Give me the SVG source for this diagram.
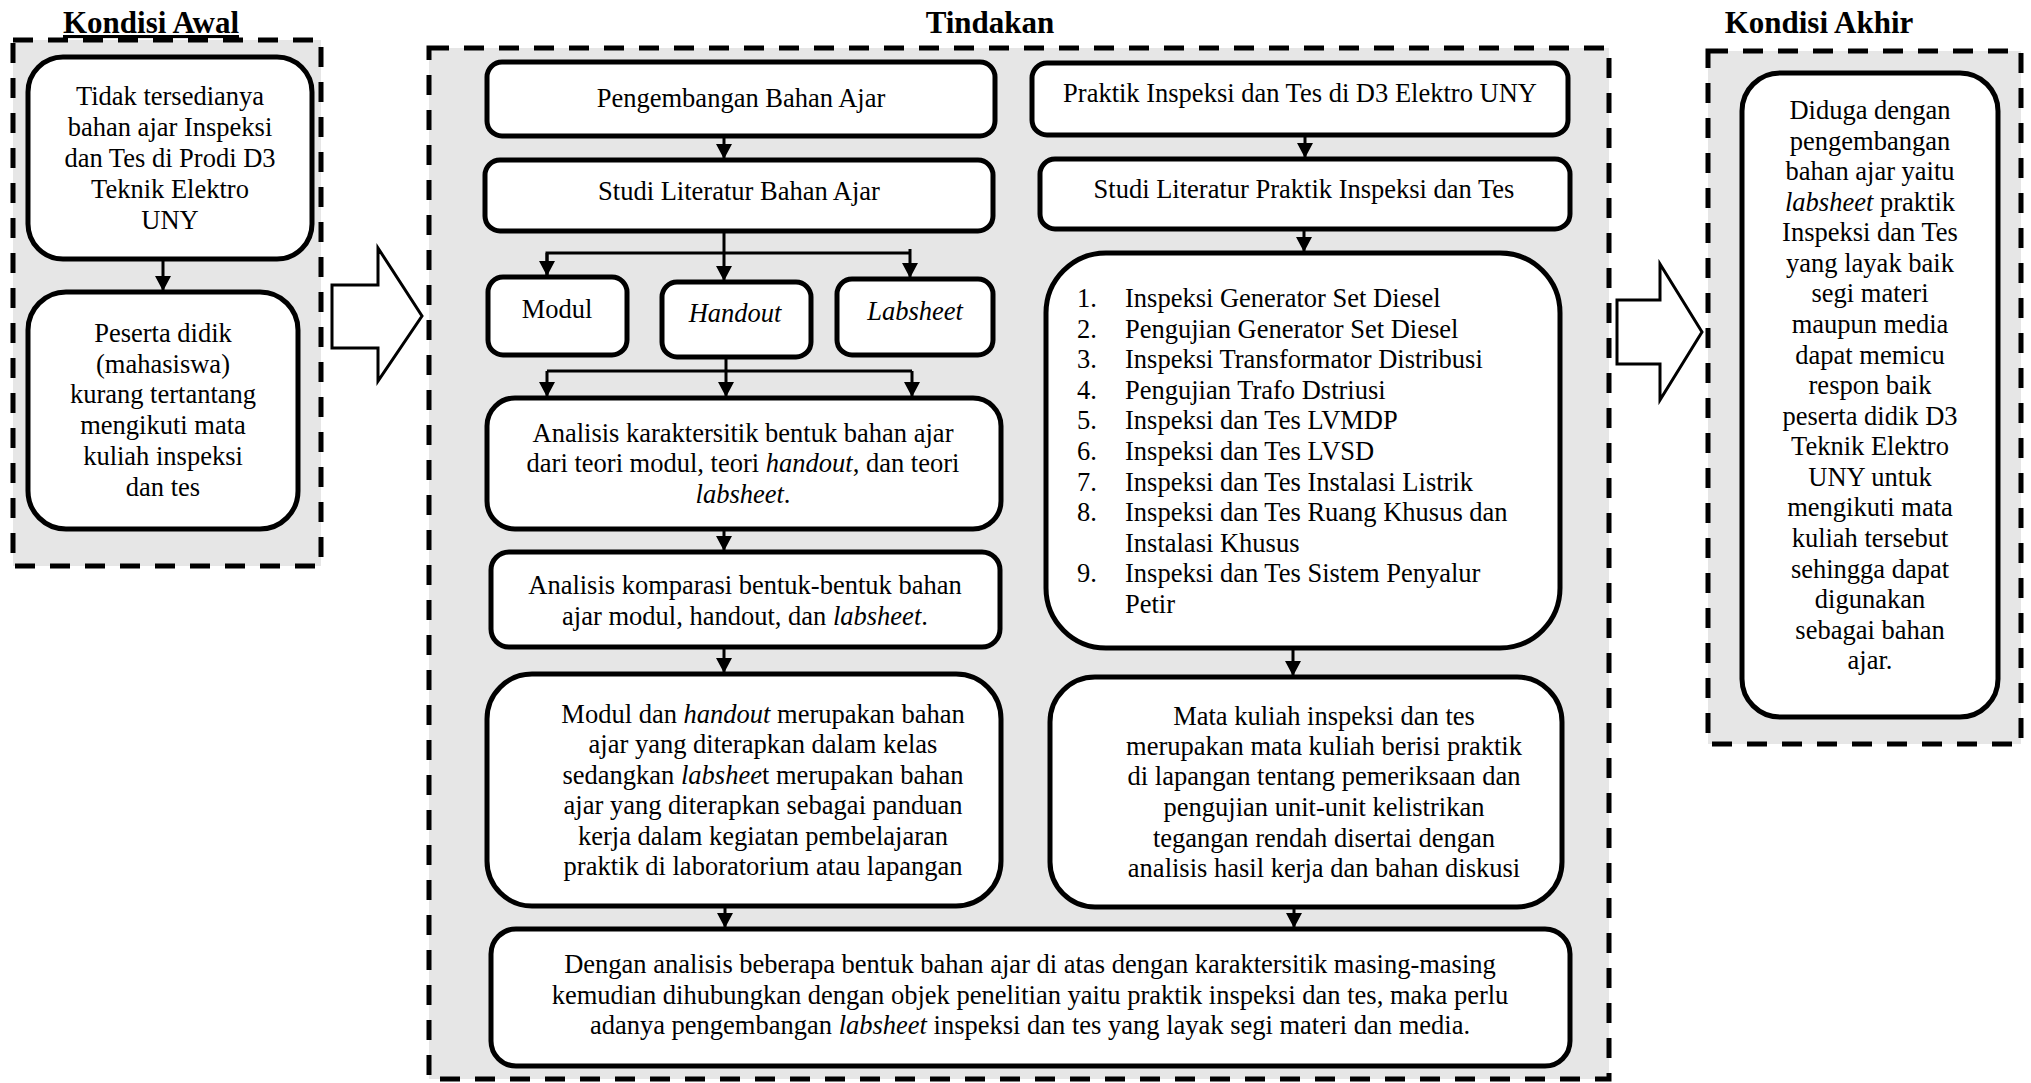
<svg xmlns="http://www.w3.org/2000/svg" width="2031" height="1083" viewBox="0 0 2031 1083">
<style>
.frame{fill:#e6e6e6;stroke:#000;stroke-width:5;stroke-dasharray:20 15}
.box{fill:#fff;stroke:#000;stroke-width:5}
.t{font-family:"Liberation Serif","Times New Roman",serif;font-size:26.5px;fill:#000;text-anchor:middle}
.l{font-family:"Liberation Serif","Times New Roman",serif;font-size:26.5px;fill:#000}
.title{font-family:"Liberation Serif","Times New Roman",serif;font-size:31px;font-weight:bold;fill:#000;text-anchor:middle}
.i{font-style:italic}
.conn{stroke:#000;stroke-width:3;fill:none}
.big{fill:#fff;stroke:#000;stroke-width:3}
</style>
<defs>
<marker id="ah" markerUnits="userSpaceOnUse" markerWidth="16" markerHeight="16" refX="15" refY="8" orient="auto">
<path d="M0,0 L15,8 L0,16 z" fill="#000"/>
</marker>
</defs>
<rect width="2031" height="1083" fill="#fff"/>

<g id="kondisi-awal">
<rect class="frame" x="13" y="40" width="308" height="526"/>
<text class="title" x="151" y="33" text-decoration="underline">Kondisi Awal</text>
</g>
<g id="awal-1">
<rect class="box" x="28" y="57" width="284" height="202" rx="35"/>
<text class="t" x="170" y="105">Tidak tersedianya</text>
<text class="t" x="170" y="136">bahan ajar Inspeksi</text>
<text class="t" x="170" y="167">dan Tes di Prodi D3</text>
<text class="t" x="170" y="198">Teknik Elektro</text>
<text class="t" x="170" y="229">UNY</text>
</g>
<g id="awal-2">
<rect class="box" x="28" y="292" width="270" height="237" rx="38"/>
<text class="t" x="163" y="342">Peserta didik</text>
<text class="t" x="163" y="373">(mahasiswa)</text>
<text class="t" x="163" y="403">kurang tertantang</text>
<text class="t" x="163" y="434">mengikuti mata</text>
<text class="t" x="163" y="465">kuliah inspeksi</text>
<text class="t" x="163" y="496">dan tes</text>
</g>

<g id="tindakan">
<rect class="frame" x="429" y="48" width="1180" height="1031"/>
<text class="title" x="990" y="33">Tindakan</text>
</g>
<g id="pengembangan">
<rect class="box" x="487" y="62" width="508" height="74" rx="15"/>
<text class="t" x="741" y="107">Pengembangan Bahan Ajar</text>
</g>
<g id="studi-bahan">
<rect class="box" x="485" y="160" width="508" height="71" rx="15"/>
<text class="t" x="739" y="200">Studi Literatur Bahan Ajar</text>
</g>
<g id="modul">
<rect class="box" x="488" y="277" width="139" height="78" rx="15"/>
<text class="t" x="557" y="318">Modul</text>
</g>
<g id="handout">
<rect class="box" x="662" y="282" width="149" height="75" rx="15"/>
<text class="t i" x="735" y="322">Handout</text>
</g>
<g id="labsheet">
<rect class="box" x="837" y="279" width="156" height="76" rx="15"/>
<text class="t i" x="915" y="320">Labsheet</text>
</g>
<g id="analisis-karakteristik">
<rect class="box" x="487" y="398" width="514" height="131" rx="28"/>
<text class="t" x="743" y="442">Analisis karaktersitik bentuk bahan ajar</text>
<text class="t" x="743" y="472">dari teori modul, teori <tspan class="i">handout</tspan>, dan teori</text>
<text class="t" x="743" y="503"><tspan class="i">labsheet</tspan>.</text>
</g>
<g id="analisis-komparasi">
<rect class="box" x="491" y="552" width="509" height="95" rx="18"/>
<text class="t" x="745" y="594">Analisis komparasi bentuk-bentuk bahan</text>
<text class="t" x="745" y="625">ajar modul, handout, dan <tspan class="i">labsheet</tspan>.</text>
</g>
<g id="modul-handout">
<rect class="box" x="487" y="674" width="514" height="232" rx="45"/>
<text class="t" x="763" y="723">Modul dan <tspan class="i">handout</tspan> merupakan bahan</text>
<text class="t" x="763" y="753">ajar yang diterapkan dalam kelas</text>
<text class="t" x="763" y="784">sedangkan <tspan class="i">labshee</tspan>t merupakan bahan</text>
<text class="t" x="763" y="814">ajar yang diterapkan sebagai panduan</text>
<text class="t" x="763" y="845">kerja dalam kegiatan pembelajaran</text>
<text class="t" x="763" y="875">praktik di laboratorium atau lapangan</text>
</g>
<g id="praktik">
<rect class="box" x="1032" y="63" width="536" height="72" rx="15"/>
<text class="t" x="1300" y="102">Praktik Inspeksi dan Tes di D3 Elektro UNY</text>
</g>
<g id="studi-praktik">
<rect class="box" x="1040" y="159" width="530" height="70" rx="15"/>
<text class="t" x="1304" y="198">Studi Literatur Praktik Inspeksi dan Tes</text>
</g>
<g id="daftar">
<rect class="box" x="1046" y="253" width="514" height="395" rx="60"/>
<text class="l" x="1077" y="307">1.</text><text class="l" x="1125" y="307">Inspeksi Generator Set Diesel</text>
<text class="l" x="1077" y="338">2.</text><text class="l" x="1125" y="338">Pengujian Generator Set Diesel</text>
<text class="l" x="1077" y="368">3.</text><text class="l" x="1125" y="368">Inspeksi Transformator Distribusi</text>
<text class="l" x="1077" y="399">4.</text><text class="l" x="1125" y="399">Pengujian Trafo Dstriusi</text>
<text class="l" x="1077" y="429">5.</text><text class="l" x="1125" y="429">Inspeksi dan Tes LVMDP</text>
<text class="l" x="1077" y="460">6.</text><text class="l" x="1125" y="460">Inspeksi dan Tes LVSD</text>
<text class="l" x="1077" y="491">7.</text><text class="l" x="1125" y="491">Inspeksi dan Tes Instalasi Listrik</text>
<text class="l" x="1077" y="521">8.</text><text class="l" x="1125" y="521">Inspeksi dan Tes Ruang Khusus dan</text>
<text class="l" x="1125" y="552">Instalasi Khusus</text>
<text class="l" x="1077" y="582">9.</text><text class="l" x="1125" y="582">Inspeksi dan Tes Sistem Penyalur</text>
<text class="l" x="1125" y="613">Petir</text>
</g>
<g id="mata-kuliah">
<rect class="box" x="1050" y="677" width="512" height="230" rx="45"/>
<text class="t" x="1324" y="725">Mata kuliah inspeksi dan tes</text>
<text class="t" x="1324" y="755">merupakan mata kuliah berisi praktik</text>
<text class="t" x="1324" y="785">di lapangan tentang pemeriksaan dan</text>
<text class="t" x="1324" y="816">pengujian unit-unit kelistrikan</text>
<text class="t" x="1324" y="847">tegangan rendah disertai dengan</text>
<text class="t" x="1324" y="877">analisis hasil kerja dan bahan diskusi</text>
</g>
<g id="kesimpulan">
<rect class="box" x="491" y="929" width="1079" height="137" rx="25"/>
<text class="t" x="1030" y="973">Dengan analisis beberapa bentuk bahan ajar di atas dengan karaktersitik masing-masing</text>
<text class="t" x="1030" y="1004">kemudian dihubungkan dengan objek penelitian yaitu praktik inspeksi dan tes, maka perlu</text>
<text class="t" x="1030" y="1034">adanya pengembangan <tspan class="i">labsheet</tspan> inspeksi dan tes yang layak segi materi dan media.</text>
</g>

<g id="kondisi-akhir">
<rect class="frame" x="1708" y="51" width="313" height="693"/>
<text class="title" x="1819" y="33">Kondisi Akhir</text>
</g>
<g id="akhir-1">
<rect class="box" x="1742" y="73" width="256" height="644" rx="38"/>
<text class="t" x="1870" y="119">Diduga dengan</text>
<text class="t" x="1870" y="150">pengembangan</text>
<text class="t" x="1870" y="180">bahan ajar yaitu</text>
<text class="t" x="1870" y="211"><tspan class="i">labsheet</tspan> praktik</text>
<text class="t" x="1870" y="241">Inspeksi dan Tes</text>
<text class="t" x="1870" y="272">yang layak baik</text>
<text class="t" x="1870" y="302">segi materi</text>
<text class="t" x="1870" y="333">maupun media</text>
<text class="t" x="1870" y="364">dapat memicu</text>
<text class="t" x="1870" y="394">respon baik</text>
<text class="t" x="1870" y="425">peserta didik D3</text>
<text class="t" x="1870" y="455">Teknik Elektro</text>
<text class="t" x="1870" y="486">UNY untuk</text>
<text class="t" x="1870" y="516">mengikuti mata</text>
<text class="t" x="1870" y="547">kuliah tersebut</text>
<text class="t" x="1870" y="578">sehingga dapat</text>
<text class="t" x="1870" y="608">digunakan</text>
<text class="t" x="1870" y="639">sebagai bahan</text>
<text class="t" x="1870" y="669">ajar.</text>
</g>

<g id="connectors">
<polygon class="big" points="332,285 378,285 378,248 422,316 378,381 378,348 332,348"/>
<polygon class="big" points="1617,300 1660,300 1660,264 1702,332 1660,400 1660,364 1617,364"/>
<line class="conn" x1="163" y1="259" x2="163" y2="291" marker-end="url(#ah)"/>
<line class="conn" x1="724" y1="136" x2="724" y2="159" marker-end="url(#ah)"/>
<line class="conn" x1="724" y1="231" x2="724" y2="281" marker-end="url(#ah)"/>
<polyline class="conn" points="547,276 547,253 910,253"/>
<line class="conn" x1="547" y1="253" x2="547" y2="276" marker-end="url(#ah)"/>
<line class="conn" x1="910" y1="249" x2="910" y2="278" marker-end="url(#ah)"/>
<line class="conn" x1="726" y1="357" x2="726" y2="397" marker-end="url(#ah)"/>
<line class="conn" x1="547" y1="371" x2="912" y2="371"/>
<line class="conn" x1="547" y1="371" x2="547" y2="397" marker-end="url(#ah)"/>
<line class="conn" x1="912" y1="371" x2="912" y2="397" marker-end="url(#ah)"/>
<line class="conn" x1="724" y1="529" x2="724" y2="551" marker-end="url(#ah)"/>
<line class="conn" x1="724" y1="647" x2="724" y2="673" marker-end="url(#ah)"/>
<line class="conn" x1="725" y1="906" x2="725" y2="928" marker-end="url(#ah)"/>
<line class="conn" x1="1305" y1="135" x2="1305" y2="158" marker-end="url(#ah)"/>
<line class="conn" x1="1304" y1="229" x2="1304" y2="252" marker-end="url(#ah)"/>
<line class="conn" x1="1293" y1="648" x2="1293" y2="676" marker-end="url(#ah)"/>
<line class="conn" x1="1294" y1="907" x2="1294" y2="928" marker-end="url(#ah)"/>
</g>
</svg>
